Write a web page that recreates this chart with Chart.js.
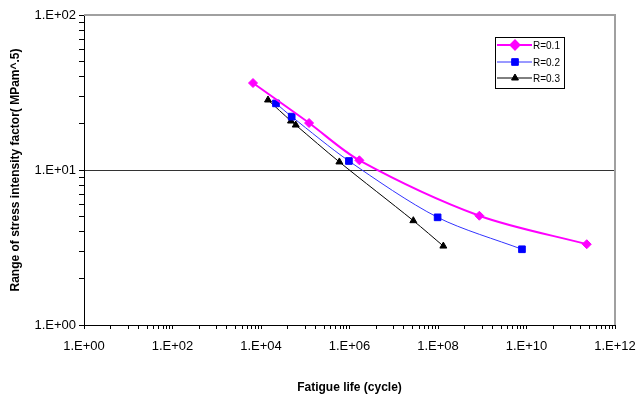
<!DOCTYPE html>
<html>
<head>
<meta charset="utf-8">
<script src="https://cdn.jsdelivr.net/npm/chart.js"></script>
<style>
    body { margin: 0; background: #fff; }
    #wrap { width: 637px; height: 396px; }
</style>
</head>
<body>
<div id="wrap"><canvas id="myChart"></canvas></div>
<script>
// fatigue life (cycles) vs stress intensity range
const lifeR01 = [6.6e3, 1.22e5, 1.67e6, 8.6e8, 2.3e11];
const dkR01   = [36.4, 20.1, 11.55, 5.07, 3.32];
const lifeR02 = [2.18e4, 4.94e4, 9.7e5, 9.8e7, 7.9e9];
const dkR02   = [26.9, 22.1, 11.43, 4.95, 3.08];
const lifeR03 = [1.44e4, 4.76e4, 6.1e4, 5.9e5, 2.77e7, 1.32e8];
const dkR03   = [28.3, 20.7, 19.5, 11.27, 4.71, 3.23];

const seriesNames = ['R=0.1', 'R=0.2', 'R=0.3'];
const xMajorTicks = [1e0, 1e2, 1e4, 1e6, 1e8, 1e10, 1e12];
const xMinorSteps = [4, 10, 17, 27, 38, 49, 62, 74, 87];
const yTicks = [1, 2, 3, 4, 5, 6, 7, 8, 9, 10, 20, 30, 40, 50, 60, 70, 80, 90, 100];
const yLabelled = [1, 10, 100];

function pairs(xs, ys) {
    return xs.map(function (x, i) { return { x: x, y: ys[i] }; });
}

function expLabel(v) {
    const e = Math.round(Math.log10(v));
    return '1.E+' + String(e).padStart(2, '0');
}

const xTicks = [];
xMajorTicks.forEach(function (m, i) {
    xTicks.push(m);
    if (i < xMajorTicks.length - 1) {
        xMinorSteps.forEach(function (s) { xTicks.push(m * s); });
    }
});

const FONT = 'Liberation Sans, Arial, sans-serif';

// grey frame on top/right like the excel plot area
const frame = {
    id: 'frame',
    afterDraw: function (chart) {
        const a = chart.chartArea;
        const ctx = chart.ctx;
        ctx.save();
        ctx.strokeStyle = '#a0a0a0';
        ctx.lineWidth = 2;
        ctx.beginPath();
        ctx.moveTo(a.left, a.top);
        ctx.lineTo(a.right, a.top);
        ctx.lineTo(a.right, a.bottom);
        ctx.stroke();
        ctx.restore();
    }
};

// legend box inside plot
const boxLegend = {
    id: 'boxLegend',
    afterDraw: function (chart) {
        const ctx = chart.ctx;
        ctx.save();
        ctx.fillStyle = '#fff';
        ctx.fillRect(495, 37, 69, 51);
        ctx.strokeStyle = '#000';
        ctx.lineWidth = 1;
        ctx.strokeRect(495.5, 37.5, 69, 51);
        const rows = [45, 62, 78];
        chart.data.datasets.forEach(function (ds, i) {
            const y = rows[i];
            ctx.strokeStyle = ds.borderColor;
            ctx.lineWidth = ds.borderWidth;
            ctx.beginPath();
            ctx.moveTo(497, y);
            ctx.lineTo(532, y);
            ctx.stroke();
            ctx.fillStyle = ds.pointBackgroundColor;
            ctx.strokeStyle = ds.pointBorderColor;
            Chart.helpers.drawPoint(ctx, {
                pointStyle: ds.pointStyle,
                radius: ds.pointRadius,
                rotation: 0,
                borderWidth: 1
            }, 515, y);
            ctx.fillStyle = '#000';
            ctx.font = '10px ' + FONT;
            ctx.textBaseline = 'middle';
            ctx.fillText(ds.label, 533, y + 1);
        });
        ctx.restore();
    }
};

const ctx = document.getElementById('myChart').getContext('2d');
const myChart = new Chart(ctx, {
    type: 'line',
    data: {
        datasets: [{
            label: seriesNames[0],
            data: pairs(lifeR01, dkR01),
            borderColor: '#ff00ff',
            borderWidth: 2,
            pointStyle: 'rectRot',
            pointRadius: 4.5,
            pointBackgroundColor: '#ff00ff',
            pointBorderColor: '#ff00ff',
            pointBorderWidth: 1,
            tension: 0.3
        }, {
            label: seriesNames[1],
            data: pairs(lifeR02, dkR02),
            borderColor: '#3333ff',
            borderWidth: 1,
            pointStyle: 'rect',
            pointRadius: 4.7,
            pointBackgroundColor: '#0000ff',
            pointBorderColor: '#0000ff',
            pointBorderWidth: 1,
            tension: 0.3
        }, {
            label: seriesNames[2],
            data: pairs(lifeR03, dkR03),
            borderColor: '#000000',
            borderWidth: 1,
            pointStyle: 'triangle',
            pointRadius: 4,
            pointBackgroundColor: '#000000',
            pointBorderColor: '#000000',
            pointBorderWidth: 1,
            tension: 0.3
        }]
    },
    options: {
        responsive: true,
        maintainAspectRatio: false,
        animation: false,
        layout: { padding: { top: 15, right: 22, left: 0, bottom: 0 } },
        plugins: {
            legend: { display: false },
            tooltip: { enabled: false }
        },
        scales: {
            x: {
                type: 'logarithmic',
                min: 1,
                max: 1e12,
                afterBuildTicks: function (scale) {
                    scale.ticks = xTicks.map(function (v) { return { value: v }; });
                },
                afterFit: function (scale) {
                    scale.height = 71;
                    scale.paddingLeft = 0;
                    scale.paddingRight = 0;
                },
                border: { color: '#000', width: 1 },
                grid: {
                    drawOnChartArea: false,
                    tickLength: 4,
                    tickColor: '#000'
                },
                ticks: {
                    autoSkip: false,
                    maxRotation: 0,
                    padding: 10,
                    color: '#000',
                    font: { family: FONT, size: 13 },
                    callback: function (v) {
                        return xMajorTicks.indexOf(v) >= 0 ? expLabel(v) : '';
                    }
                },
                title: {
                    display: true,
                    text: 'Fatigue life (cycle)',
                    color: '#000',
                    font: { family: FONT, size: 12, weight: 'bold' },
                    padding: { top: 0, bottom: 1 }
                }
            },
            y: {
                type: 'logarithmic',
                min: 1,
                max: 100,
                afterBuildTicks: function (scale) {
                    scale.ticks = yTicks.map(function (v) { return { value: v }; });
                },
                afterFit: function (scale) {
                    scale.width = 84;
                    scale.paddingTop = 0;
                    scale.paddingBottom = 0;
                },
                border: { color: '#000', width: 1 },
                grid: {
                    color: function (c) {
                        return c.tick && c.tick.value === 10 ? '#333' : 'rgba(0,0,0,0)';
                    },
                    tickLength: 5,
                    tickColor: '#000'
                },
                ticks: {
                    autoSkip: false,
                    padding: 3,
                    color: '#000',
                    font: { family: FONT, size: 13 },
                    callback: function (v) {
                        return yLabelled.indexOf(v) >= 0 ? expLabel(v) : '';
                    }
                },
                title: {
                    display: true,
                    text: 'Range of stress intensity factor( MPam^.5)',
                    color: '#000',
                    font: { family: FONT, size: 12, weight: 'bold' },
                    padding: { top: 8, bottom: 0 }
                }
            }
        }
    },
    plugins: [frame, boxLegend]
});
</script>
</body>
</html>
